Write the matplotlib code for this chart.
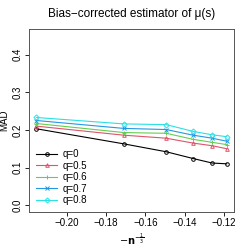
import matplotlib
matplotlib.use('Agg')
import matplotlib.pyplot as plt

# x = -n^(-1/3) for n = 100, 200, ..., 600
x = [-0.2154, -0.1710, -0.1494, -0.1357, -0.1260, -0.1186]
labels = ['q=0', 'q=0.5', 'q=0.6', 'q=0.7', 'q=0.8']
mad_q0 = [0.203, 0.163, 0.142, 0.124, 0.112, 0.110]
mad_q05 = [0.210, 0.186, 0.178, 0.165, 0.158, 0.150]
mad_q06 = [0.217, 0.193, 0.191, 0.175, 0.167, 0.161]
mad_q07 = [0.225, 0.204, 0.201, 0.186, 0.178, 0.170]
mad_q08 = [0.233, 0.216, 0.214, 0.196, 0.187, 0.182]

colors = ['black', '#DF536B', '#61D04F', '#2297E6', '#28E2E5']
markers = ['o', '^', '+', 'x', 'D']
series = [mad_q0, mad_q05, mad_q06, mad_q07, mad_q08]

plt.rcParams['font.family'] = ['Liberation Sans', 'DejaVu Sans']
fig = plt.figure(figsize=(2.49, 2.49), dpi=100)
ax = fig.add_axes([29 / 249, 1 - 212 / 249, 205 / 249, 183 / 249])

for y, c, m, lab in zip(series, colors, markers, labels):
    ax.plot(x, y, color=c, marker=m, markersize=2.6, linewidth=0.8,
            markerfacecolor='none', markeredgewidth=0.7, label=lab)

ax.set_xlim(-0.2192, -0.1149)
ax.set_ylim(-0.018, 0.468)
ax.set_xticks([-0.20, -0.18, -0.16, -0.14, -0.12])
ax.set_xticklabels(['\u22120.20', '\u22120.18', '\u22120.16', '\u22120.14', '\u22120.12'])
ax.set_yticks([0.0, 0.1, 0.2, 0.3, 0.4])
ax.set_yticklabels(['0.0', '0.1', '0.2', '0.3', '0.4'], rotation=90, va='center')
ax.tick_params(labelsize=7, length=3, width=0.6, pad=1.5)
for s in ax.spines.values():
    s.set_linewidth(0.7)
    s.set_color('#555555')

ax.set_title('Bias\u2212corrected estimator of \u03bc(s)', fontsize=8.5, pad=9)
ax.set_ylabel('MAD', fontsize=7)
ax.yaxis.set_label_coords(-0.095, 0.5)
ax.set_xlabel(r'$-\mathbf{n}^{-\frac{1}{3}}$', fontsize=7, labelpad=2)

ax.legend(loc='lower left', frameon=False, fontsize=7, handlelength=2.2,
          handletextpad=0.6, labelspacing=0.15, borderaxespad=0.3)

fig.savefig('out.png', dpi=100)
